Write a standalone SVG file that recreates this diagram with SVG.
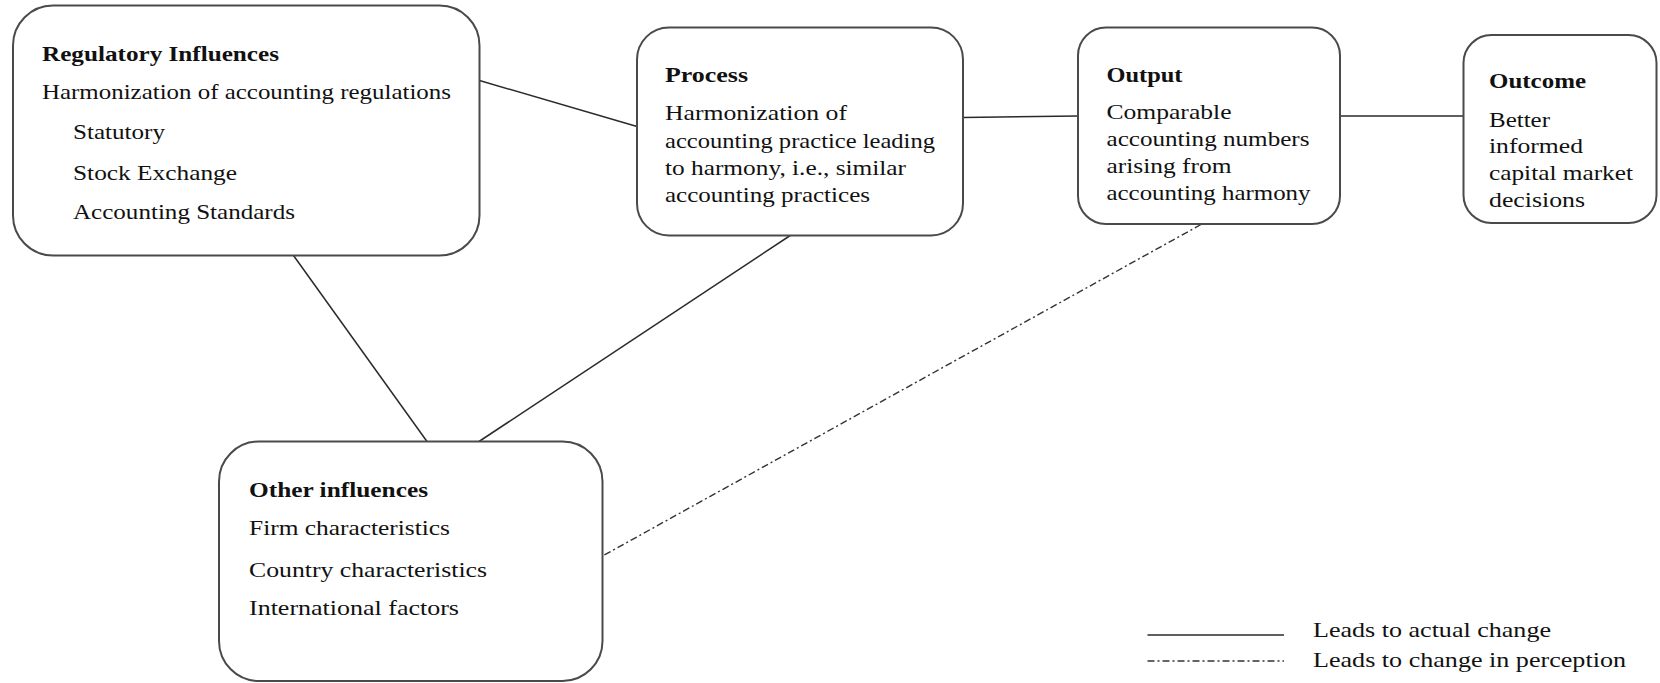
<svg xmlns="http://www.w3.org/2000/svg" width="1660" height="683" viewBox="0 0 1660 683">
<style>
  .box { fill: #ffffff; stroke: #4a4a4a; stroke-width: 2; }
  .conn { stroke: #2a2a2a; stroke-width: 1.5; fill: none; }
  .dd { stroke: #333333; stroke-width: 1.4; fill: none; stroke-dasharray: 7 3 2 3; }
  text { font-family: "Liberation Serif", "Times New Roman", serif; font-size: 22px; fill: #111111; }
  .b { font-weight: bold; }
</style>
<rect width="1660" height="683" fill="#ffffff"/>
<g id="connectors">
  <line class="conn" x1="479.5" y1="80.5" x2="637" y2="126.5"/>
  <line class="conn" x1="962.5" y1="117.5" x2="1078" y2="116"/>
  <line class="conn" x1="1340" y1="116" x2="1463.5" y2="116"/>
  <line class="conn" x1="293.5" y1="255.5" x2="427" y2="441.5"/>
  <line class="conn" x1="791" y1="235" x2="479" y2="441.5"/>
  <line class="dd" x1="1201" y1="224.5" x2="602.5" y2="556"/>
</g>
<g id="node-regulatory">
  <rect class="box" x="13" y="5.5" width="466.5" height="250" rx="40" ry="40"/>
  <text class="b" x="42" y="61" textLength="237" lengthAdjust="spacingAndGlyphs">Regulatory Influences</text>
  <text x="42" y="99" textLength="409" lengthAdjust="spacingAndGlyphs">Harmonization of accounting regulations</text>
  <text x="73" y="139" textLength="92" lengthAdjust="spacingAndGlyphs">Statutory</text>
  <text x="73" y="180" textLength="164" lengthAdjust="spacingAndGlyphs">Stock Exchange</text>
  <text x="73" y="219" textLength="222" lengthAdjust="spacingAndGlyphs">Accounting Standards</text>
</g>
<g id="node-process">
  <rect class="box" x="637" y="27.5" width="326" height="208" rx="32" ry="32"/>
  <text class="b" x="665" y="82" textLength="83" lengthAdjust="spacingAndGlyphs">Process</text>
  <text x="665" y="120" textLength="182" lengthAdjust="spacingAndGlyphs">Harmonization of</text>
  <text x="665" y="147.5" textLength="270" lengthAdjust="spacingAndGlyphs">accounting practice leading</text>
  <text x="665" y="175" textLength="241" lengthAdjust="spacingAndGlyphs">to harmony, i.e., similar</text>
  <text x="665" y="202" textLength="205" lengthAdjust="spacingAndGlyphs">accounting practices</text>
</g>
<g id="node-output">
  <rect class="box" x="1078" y="27.5" width="262" height="196.5" rx="28" ry="28"/>
  <text class="b" x="1106.5" y="82" textLength="76" lengthAdjust="spacingAndGlyphs">Output</text>
  <text x="1106.5" y="119" textLength="125" lengthAdjust="spacingAndGlyphs">Comparable</text>
  <text x="1106.5" y="146" textLength="203" lengthAdjust="spacingAndGlyphs">accounting numbers</text>
  <text x="1106.5" y="173" textLength="125" lengthAdjust="spacingAndGlyphs">arising from</text>
  <text x="1106.5" y="200" textLength="204" lengthAdjust="spacingAndGlyphs">accounting harmony</text>
</g>
<g id="node-outcome">
  <rect class="box" x="1463.5" y="35" width="193" height="188" rx="28" ry="28"/>
  <text class="b" x="1489" y="88" textLength="97" lengthAdjust="spacingAndGlyphs">Outcome</text>
  <text x="1489" y="126.5" textLength="61" lengthAdjust="spacingAndGlyphs">Better</text>
  <text x="1489" y="153" textLength="94" lengthAdjust="spacingAndGlyphs">informed</text>
  <text x="1489" y="180" textLength="144" lengthAdjust="spacingAndGlyphs">capital market</text>
  <text x="1489" y="206.5" textLength="96" lengthAdjust="spacingAndGlyphs">decisions</text>
</g>
<g id="node-other">
  <rect class="box" x="219" y="441.5" width="383.5" height="239.5" rx="40" ry="40"/>
  <text class="b" x="249" y="497" textLength="179" lengthAdjust="spacingAndGlyphs">Other influences</text>
  <text x="249" y="535" textLength="201" lengthAdjust="spacingAndGlyphs">Firm characteristics</text>
  <text x="249" y="576.5" textLength="238" lengthAdjust="spacingAndGlyphs">Country characteristics</text>
  <text x="249" y="615" textLength="210" lengthAdjust="spacingAndGlyphs">International factors</text>
</g>
<g id="legend">
  <line class="conn" x1="1147.5" y1="635" x2="1284" y2="635"/>
  <line class="dd" x1="1147.5" y1="661" x2="1284" y2="661" stroke-width="1.2" stroke-dasharray="5 3 2 3"/>
  <text x="1313" y="637" textLength="238" lengthAdjust="spacingAndGlyphs">Leads to actual change</text>
  <text x="1313" y="667" textLength="313" lengthAdjust="spacingAndGlyphs">Leads to change in perception</text>
</g>
</svg>
